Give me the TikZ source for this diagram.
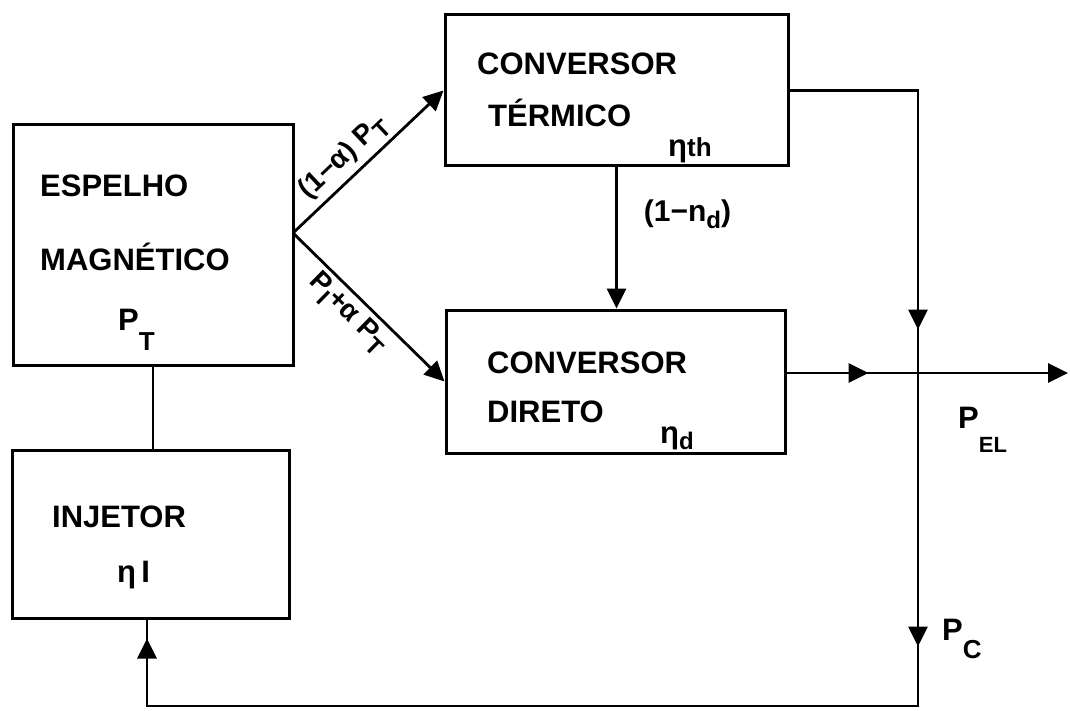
\documentclass[tikz,border=0pt]{standalone}
\usepackage{fontspec}
\setmainfont{Liberation Sans}
\usetikzlibrary{arrows.meta,decorations.markings}
\newcommand\mysub[3]{\raisebox{#1}{\fontsize{#2}{#2}\selectfont #3}}
\begin{document}
\begin{tikzpicture}[x=1pt,y=-1pt,
  box/.style={draw,line width=3pt,inner sep=0pt},
  ln/.style={line width=2.8pt},
  tip/.tip={Triangle[length=20pt,width=19pt]},
  txt/.style={font=\fontsize{31}{31}\selectfont\bfseries,inner sep=0pt,anchor=base west},
  dlbl/.style={font=\fontsize{28}{28}\selectfont\bfseries,inner sep=4pt,sloped},
  marks/.style={postaction={decorate},decoration={markings,#1}}]
\useasboundingbox (0,0) rectangle (1070,711);

% boxes
\node[box,minimum width=280pt,minimum height=240pt] (esp) at (153,245) {};
\node[box,minimum width=277pt,minimum height=168pt] (inj) at (150.5,534) {};
\node[box,minimum width=343pt,minimum height=151pt] (term) at (616.5,90.5) {};
\node[box,minimum width=339pt,minimum height=143pt] (dir) at (615.5,381.5) {};

% texts in boxes
\node[txt] (t1) at (40,197) {ESPELHO};
\node[txt] (t2) at (40,270) {MAGNÉTICO};
\node[txt] (t3) at (118,330) {P\mysub{-20pt}{26}{T}};
\node[txt] (t4) at (477,75) {CONVERSOR};
\node[txt] (t5) at (488,127) {TÉRMICO};
\node[txt] (t6) at (668,157) {η\mysub{0pt}{26}{th}};
\node[txt] (t7) at (487,373) {CONVERSOR};
\node[txt] (t8) at (487,422) {DIRETO};
\node[txt] (t9) at (660,443) {η\mysub{-6pt}{24}{d}};
\node[txt] (t10) at (52,527) {INJETOR};
\node[txt] (t11) at (117,582) {η\,I};

% coordinates
\coordinate (apex) at (293,233);
\coordinate (c1) at (918,90.5);
\coordinate (c2) at (918,706);
\coordinate (c3) at (147,706);
\coordinate (pel) at (1068,373);

% connectors
\draw[ln] (esp.south) -- (esp.south |- inj.north);
\draw[ln,-{tip}] (apex) -- node[dlbl,above,pos=0.43] (l1) {(1−α) P\mysub{-8pt}{24}{T}} (term.west);
\draw[ln,-{tip}] (apex) -- node[dlbl,below,pos=0.45] (l2) {P\mysub{-8pt}{24}{I}+α P\mysub{-8pt}{24}{T}} (dir.west);
\draw[ln,-{tip}] (term.south) -- node[txt,anchor=base west,pos=0.38,xshift=26pt,font=\fontsize{30}{30}\selectfont\bfseries] (l3) {(1−n\mysub{-7pt}{24}{d})} (term.south |- dir.north);
\draw[ln,marks={mark=at position 367.5pt with {\arrow{tip}},mark=at position 684.5pt with {\arrow{tip}},mark=at position 1582.5pt with {\arrow{tip}}}]
  (term.east) -- (c1) -- (c2) -- (c3) -- (c3 |- inj.south);
\draw[ln,-{tip},marks={mark=at position 82pt with {\arrow{tip}}}] (dir.east |- pel) -- (pel);

% outer labels
\node[txt] (pe) at (958,428) {P\mysub{-24pt}{22}{EL}};
\node[txt] (pc) at (942,640) {P\mysub{-18pt}{26}{C}};
\end{tikzpicture}
\end{document}
